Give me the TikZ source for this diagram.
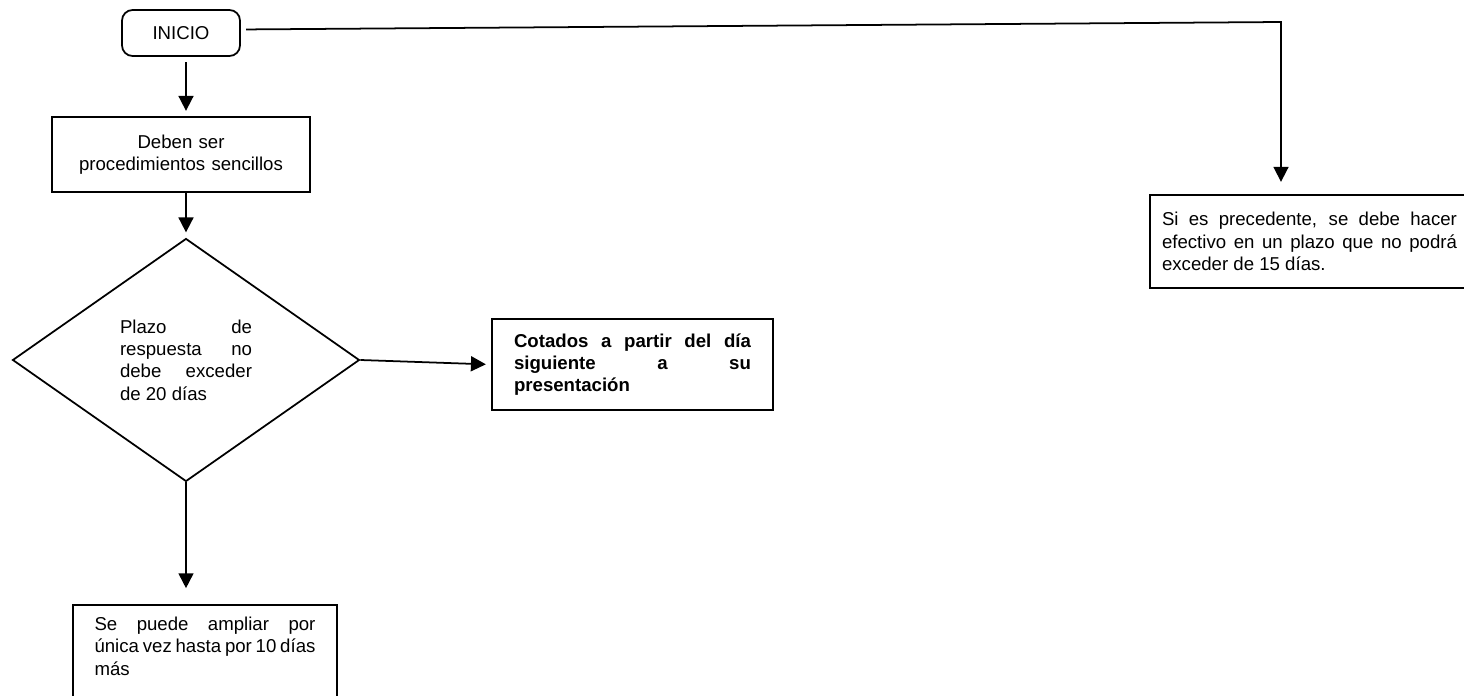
\documentclass[tikz,border=0pt]{standalone}
\usepackage{fontspec}
\setmainfont{Liberation Sans}
\usetikzlibrary{shapes.geometric, arrows.meta}

\newcommand{\boxfont}{\fontsize{10.6}{12.7}\selectfont}

\tikzset{
	startbox/.style={draw, line width=1pt, rounded corners=6pt, font=\boxfont,
		minimum width=2.36cm, minimum height=0.92cm},
	procbox/.style={draw, line width=1pt, inner sep=0pt, font=\boxfont},
	decision/.style={draw, line width=1pt, diamond, inner sep=0pt, font=\boxfont,
		minimum width=6.94cm, minimum height=4.86cm, text width=2.64cm, align=justify},
	flow/.style={line width=1pt, -{Triangle[length=8.5pt,width=8.5pt]}, shorten >=3pt}
}

\begin{document}
\begin{tikzpicture}[x=0.02cm, y=-0.02cm]
	\useasboundingbox (0,0) rectangle (1464,696);
	\clip (0,0) rectangle (1464,696);

	\node[startbox] (inicio) at (181,33) {INICIO};
	\node[procbox, minimum width=5.16cm, minimum height=1.5cm, text width=4.9cm, align=center] (deben) at (181,154.5) {Deben ser\\procedimientos sencillos};
	\node[decision] (plazo) at (186,360) {Plazo de\linebreak respuesta no\linebreak debe exceder\linebreak de 20 días};
	\node[procbox, font=\boxfont\bfseries, minimum width=5.62cm, minimum height=1.82cm, text width=4.74cm, align=justify] (cotados) at (632.5,364.5) {Cotados a partir del día\linebreak siguiente a su\linebreak presentación};
	\node[procbox, anchor=north, minimum width=5.28cm, text width=4.42cm, align=justify, inner ysep=7pt, text depth=3cm] (ampliar) at (205,604) {Se puede ampliar por\linebreak única vez hasta por 10 días\linebreak más};
	\node[procbox, minimum width=6.38cm, minimum height=1.86cm, text width=5.9cm, align=justify] (precedente) at (1309.5,241.5) {Si es precedente, se debe hacer\linebreak efectivo en un plazo que no podrá\linebreak exceder de 15 días.};

	\coordinate (esquina) at (1281,22);

	\draw[flow, shorten <=3pt] (inicio.south -| plazo.north) -- (deben.north -| plazo.north);
	\draw[flow] (deben.south -| plazo.north) -- (plazo.north);
	\draw[flow] (plazo.east) -- (cotados.west);
	\draw[flow, shorten >=9pt] (plazo.south) -- (ampliar.north -| plazo.south);
	\draw[flow, shorten <=3pt, shorten >=7pt] ([yshift=2pt]inicio.east) -- (esquina) -- (esquina |- precedente.north);
\end{tikzpicture}
\end{document}
